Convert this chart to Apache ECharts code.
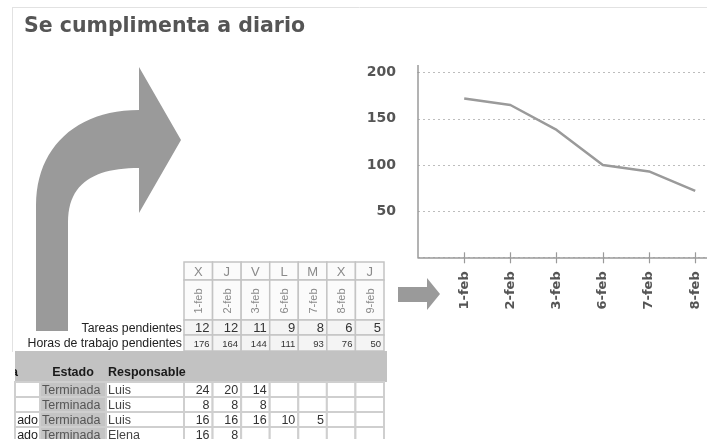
<!DOCTYPE html>
<html>
<head>
<meta charset="utf-8">
<script src="https://cdn.jsdelivr.net/npm/echarts@6/dist/echarts.min.js"></script>
<style>
html,body{margin:0;padding:0;background:#fff;}
#c{width:707px;height:439px;}
</style>
</head>
<body>
<div id="c"></div>
<script>
// ---- Chart data ----
var chartCategories = ['1-feb', '2-feb', '3-feb', '6-feb', '7-feb', '8-feb'];
var chartHours = [172, 165, 138, 100, 93, 72];
var yTicks = [50, 100, 150, 200];

// ---- Table data ----
var dayLetters = ['X', 'J', 'V', 'L', 'M', 'X', 'J'];
var dayDates = ['1-feb', '2-feb', '3-feb', '6-feb', '7-feb', '8-feb', '9-feb'];
var tareasPendientes = [12, 12, 11, 9, 8, 6, 5];
var horasPendientes = [176, 164, 144, 111, 93, 76, 50];
var rowPrefix = ['', '', 'ado', 'ado'];
var rowEstado = ['Terminada', 'Terminada', 'Terminada', 'Terminada'];
var rowResponsable = ['Luis', 'Luis', 'Luis', 'Elena'];
var rowHours = [[24, 20, 14], [8, 8, 8], [16, 16, 16, 10, 5], [16, 8]];

var titleText = 'Se cumplimenta a diario';

// ---- Layout (decorations) ----
var FONT_T = '"Liberation Sans", Arial, sans-serif';
var els = [];
function rect(x, y, w, h, fill, stroke, lw, z) {
  els.push({type: 'rect', z: z || 1, shape: {x: x, y: y, width: w, height: h},
    style: {fill: fill, stroke: stroke || null, lineWidth: lw || 0}, silent: true});
}
function text(x, y, t, opt) {
  opt = opt || {};
  els.push({type: 'text', z: opt.z || 5, x: x, y: y, rotation: opt.rot || 0,
    style: {text: String(t), fill: opt.fill || '#333',
      font: (opt.weight || 'normal') + ' ' + (opt.size || 12) + 'px ' + (opt.family || FONT_T),
      align: opt.align || 'left', textAlign: opt.align || 'left',
      verticalAlign: 'middle', textVerticalAlign: 'middle'}, silent: true});
}
function bez(p0, p1, p2, p3, n) {
  var pts = [];
  for (var i = 0; i <= n; i++) {
    var t = i / n, u = 1 - t;
    pts.push([
      u*u*u*p0[0] + 3*u*u*t*p1[0] + 3*u*t*t*p2[0] + t*t*t*p3[0],
      u*u*u*p0[1] + 3*u*u*t*p1[1] + 3*u*t*t*p2[1] + t*t*t*p3[1]
    ]);
  }
  return pts;
}

// slide border
els.push({type: 'line', shape: {x1: 12, y1: 7.5, x2: 707, y2: 7.5}, style: {stroke: '#e2e2e2', lineWidth: 1}, silent: true});
els.push({type: 'line', shape: {x1: 12.5, y1: 7, x2: 12.5, y2: 352}, style: {stroke: '#e2e2e2', lineWidth: 1}, silent: true});

// title
text(24, 26.5, titleText, {size: 20.5, weight: 'bold', fill: '#555', family: '"DejaVu Sans", Verdana, sans-serif'});

// big curved arrow
var arrowPts = [[36, 331]]
  .concat(bez([36, 205], [36, 148], [76, 110], [139, 110], 24))
  .concat([[139, 67], [181, 140], [139, 213]])
  .concat(bez([139, 168], [96, 168], [68, 182], [68, 222], 24))
  .concat([[68, 331]]);
els.push({type: 'polygon', z: 2, shape: {points: arrowPts}, style: {fill: '#9a9a9a'}, silent: true});

// small arrow
els.push({type: 'polygon', z: 2, shape: {points:
  [[398, 287], [427, 287], [427, 278], [440, 294], [427, 310], [427, 302], [398, 302]]},
  style: {fill: '#9a9a9a'}, silent: true});

// y-axis line stub above the top tick
els.push({type: 'line', z: 2, shape: {x1: 418, y1: 65, x2: 418, y2: 73}, style: {stroke: '#9a9a9a', lineWidth: 1.5}, silent: true});

// table header
var x0 = 184, cw = 200 / 7;
var rTop = [262, 280, 320, 335, 351];
for (var i = 0; i < dayLetters.length; i++) {
  var cx = x0 + i * cw;
  rect(cx, rTop[0], cw, rTop[1] - rTop[0], '#fbfbfb', '#c4c4c4', 1.5);
  rect(cx, rTop[1], cw, rTop[2] - rTop[1], '#fbfbfb', '#c4c4c4', 1.5);
  rect(cx, rTop[2], cw, rTop[3] - rTop[2], '#f4f4f4', '#c4c4c4', 1.5);
  rect(cx, rTop[3], cw, rTop[4] - rTop[3], '#f4f4f4', '#c4c4c4', 1.5);
  text(cx + cw / 2, (rTop[0] + rTop[1]) / 2 + 1, dayLetters[i], {align: 'center', size: 13, fill: '#8a8a8a'});
  text(cx + cw / 2 + 1, (rTop[1] + rTop[2]) / 2 + 1, dayDates[i], {align: 'center', size: 11, fill: '#8a8a8a', rot: Math.PI / 2});
  text(cx + cw - 3, (rTop[2] + rTop[3]) / 2 + 1, tareasPendientes[i], {align: 'right', size: 13, fill: '#333'});
  text(cx + cw - 3, (rTop[3] + rTop[4]) / 2 + 1, horasPendientes[i], {align: 'right', size: 9.5, fill: '#333'});
}
text(182, (rTop[2] + rTop[3]) / 2 + 1, 'Tareas pendientes', {align: 'right', size: 12.3, fill: '#222'});
text(182, (rTop[3] + rTop[4]) / 2 + 1, 'Horas de trabajo pendientes', {align: 'right', size: 12.3, fill: '#222'});

// gray band with column headers
rect(15, 351, 372, 31, '#c2c2c2', null, 0);
text(73, 373, 'Estado', {align: 'center', size: 12.5, weight: 'bold', fill: '#1a1a1a'});
text(108, 373, 'Responsable', {align: 'left', size: 12.5, weight: 'bold', fill: '#1a1a1a'});
text(11, 373, 'a', {align: 'left', size: 12.5, weight: 'bold', fill: '#1a1a1a'});
rect(0, 360, 15, 20, '#fff', null, 0, 6);

// data rows
var dTop = 382, rh = 15;
for (var r = 0; r < rowEstado.length; r++) {
  var y = dTop + r * rh, cy = y + rh / 2 + 1;
  rect(15, y, 25, rh, '#fff', '#cfcfcf', 2);
  rect(40, y, 66, rh, '#c4c4c4', '#cfcfcf', 2);
  rect(106, y, 78, rh, '#fff', '#cfcfcf', 2);
  for (var j = 0; j < 7; j++) rect(x0 + j * cw, y, cw, rh, '#fff', '#cfcfcf', 2);
  if (rowPrefix[r]) text(38, cy, rowPrefix[r], {align: 'right', size: 12.5, fill: '#222'});
  text(42, cy, rowEstado[r], {align: 'left', size: 12.5, fill: '#555'});
  text(108, cy, rowResponsable[r], {align: 'left', size: 12.5, fill: '#444'});
  for (var k = 0; k < rowHours[r].length; k++)
    text(x0 + k * cw + cw - 3, cy, rowHours[r][k], {align: 'right', size: 12.5, fill: '#333'});
}

var tickVals = chartCategories.map(function (c, i) { return i + 1; });
var LABEL_FONT = '"DejaVu Sans", Verdana, sans-serif';

var chart = echarts.init(document.getElementById('c'), null, {renderer: 'canvas'});
chart.setOption({
  animation: false,
  backgroundColor: '#fff',
  grid: {left: 418, top: 72.7, right: 0, bottom: 181.7, containLabel: false},
  xAxis: [{
    type: 'value', min: 0, max: 6.255, interval: 1,
    axisLine: {show: true, lineStyle: {color: '#9a9a9a', width: 1.5}},
    axisTick: {show: true, length: 6, customValues: tickVals, lineStyle: {color: '#9a9a9a', width: 1.2}},
    axisLabel: {show: true, rotate: 90, margin: 14, customValues: tickVals,
      formatter: function (v) { return chartCategories[v - 1] || ''; },
      color: '#555', fontSize: 13, fontWeight: 'bold', fontFamily: LABEL_FONT},
    splitLine: {show: false}
  }, {
    type: 'value', min: 0, max: 6.255, interval: 1, position: 'bottom',
    axisLine: {show: false},
    axisTick: {show: true, inside: true, length: 5, customValues: tickVals, lineStyle: {color: '#9a9a9a', width: 1.2}},
    axisLabel: {show: false},
    splitLine: {show: false}
  }],
  yAxis: {
    type: 'value', min: 0, max: 200, interval: 50,
    axisLine: {show: true, lineStyle: {color: '#9a9a9a', width: 1.5}},
    axisTick: {show: false},
    axisLabel: {margin: 22, color: '#555', fontSize: 14, fontWeight: 'bold', fontFamily: LABEL_FONT,
      formatter: function (v) { return yTicks.indexOf(v) >= 0 ? String(v) : ''; }},
    splitLine: {show: true, lineStyle: {color: '#bdbdbd', type: [2, 3], width: 1}}
  },
  series: [{
    type: 'line',
    data: chartCategories.map(function (c, i) { return [i + 1, chartHours[i]]; }),
    symbol: 'none',
    lineStyle: {color: '#9a9a9a', width: 2.5},
    z: 3
  }],
  graphic: {elements: els}
});
</script>
</body>
</html>
